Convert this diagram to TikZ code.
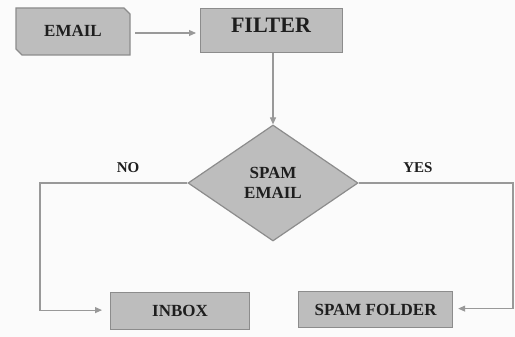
\documentclass[tikz,border=0pt]{standalone}
\usepackage{fontspec}
\setmainfont{Liberation Serif}
\usetikzlibrary{shapes.geometric,shapes.misc,arrows.meta}
\definecolor{boxfill}{HTML}{BDBDBD}
\definecolor{boxline}{HTML}{8C8C8C}
\definecolor{wireline}{HTML}{999999}
\definecolor{ink}{HTML}{1E1E1E}
\tikzset{
  stepbox/.style={draw=boxline, line width=1.2pt, fill=boxfill, text=ink,
    font=\bfseries\fontsize{17}{19}\selectfont, inner sep=0pt},
  wire/.style={draw=wireline, line width=1.1pt,
    -{Triangle[length=7pt,width=6pt]}},
  tag/.style={text=ink, font=\bfseries\fontsize{15}{17}\selectfont}
}
\begin{document}
\begin{tikzpicture}[x=1pt,y=-1pt]
  \fill[white!97!gray] (0,0) rectangle (515,337);
  \useasboundingbox (0,0) rectangle (515,337);

  % email source, with two snipped corners
  \draw[draw=boxline, line width=1.2pt, fill=boxfill]
    (16,8) -- (124,8) -- (130,14) -- (130,55) -- (22,55) -- (16,49) -- cycle;
  \node[text=ink, font=\bfseries\fontsize{17}{19}\selectfont] (email) at (73,31) {EMAIL};
  \coordinate (emailE) at (135,33);

  \node[stepbox, minimum width=142pt, minimum height=44pt, anchor=north west] (filter) at (200,8) {};
  \node[text=ink, font=\bfseries\fontsize{22}{24}\selectfont] (filtertext) at (271,25) {FILTER};

  \node[diamond, draw=boxline, line width=1.2pt, fill=boxfill, text=ink,
        minimum width=170pt, minimum height=116pt, inner sep=0pt,
        font=\bfseries\fontsize{17}{20}\selectfont, align=center] (spam) at (273,183) {SPAM\\EMAIL};

  \node[stepbox, minimum width=139pt, minimum height=37pt, anchor=north west] (inbox) at (110,292) {INBOX};
  \node[stepbox, minimum width=154pt, minimum height=36pt, anchor=north west] (folder) at (298,291) {SPAM FOLDER};

  \coordinate (noturn) at (40,183);
  \coordinate (yesturn) at (513,183);

  \draw[wire] (emailE) -- ([xshift=-4pt]filter.west |- emailE);
  \draw[wire] (filter.south -| spam.north) -- (spam.north);
  \draw[wire] (spam.west) -- (noturn) |- ([xshift=-8pt,yshift=1pt]inbox.west);
  \draw[wire] (spam.east) -- (yesturn) |- ([xshift=5pt,yshift=1pt]folder.east);

  \node[tag] (nolabel) at (128,168) {NO};
  \node[tag] (yeslabel) at (418,168) {YES};
\end{tikzpicture}
\end{document}
